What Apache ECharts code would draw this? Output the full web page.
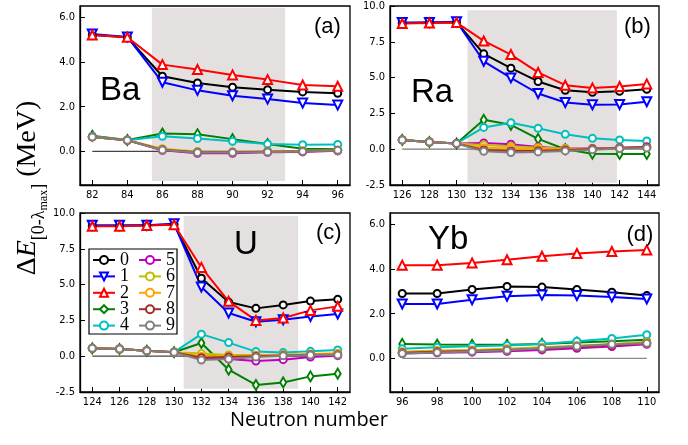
<!DOCTYPE html>
<html>
<head>
<meta charset="utf-8">
<script src="https://cdn.jsdelivr.net/npm/echarts@6/dist/echarts.min.js"></script>
<style>
html,body{margin:0;padding:0;background:#fff;}
#chart{width:688px;height:445px;}
</style>
</head>
<body>
<div id="chart"></div>
<script>
// ---------- data ----------
const seriesNames = ['0','1','2','3','4','5','6','7','8','9'];

// (a) Ba
const baN = [82, 84, 86, 88, 90, 92, 94, 96];
const baS = [
  [5.20, 5.10, 3.36, 3.06, 2.87, 2.76, 2.66, 2.60],
  [5.25, 5.12, 3.09, 2.73, 2.49, 2.34, 2.16, 2.07],
  [5.20, 5.10, 3.88, 3.66, 3.42, 3.21, 2.97, 2.91],
  [0.70, 0.51, 0.80, 0.77, 0.55, 0.33, 0.12, 0.10],
  [0.68, 0.50, 0.68, 0.58, 0.45, 0.33, 0.30, 0.31],
  [0.65, 0.50, 0.05, -0.08, -0.08, -0.04, -0.02, 0.03],
  [0.65, 0.50, 0.12, 0.00, -0.02, 0.00, 0.02, 0.05],
  [0.65, 0.50, 0.10, -0.02, -0.03, 0.00, 0.02, 0.05],
  [0.65, 0.50, 0.07, -0.04, -0.04, -0.01, 0.01, 0.05],
  [0.65, 0.50, 0.06, -0.05, -0.05, -0.02, 0.00, 0.05]
];

// (b) Ra
const raN = [126, 128, 130, 132, 134, 136, 138, 140, 142, 144];
const raS = [
  [8.80, 8.85, 8.85, 6.66, 5.66, 4.73, 4.12, 3.98, 4.05, 4.19],
  [8.85, 8.85, 8.90, 6.14, 4.98, 3.89, 3.26, 3.10, 3.12, 3.31],
  [8.77, 8.81, 8.84, 7.56, 6.61, 5.36, 4.47, 4.28, 4.38, 4.56],
  [0.65, 0.50, 0.40, 2.05, 1.70, 0.72, 0.00, -0.32, -0.33, -0.33],
  [0.65, 0.50, 0.40, 1.52, 1.85, 1.46, 1.04, 0.76, 0.65, 0.58],
  [0.65, 0.50, 0.40, 0.44, 0.35, 0.16, 0.05, 0.05, 0.10, 0.15],
  [0.65, 0.50, 0.40, 0.30, 0.20, 0.10, 0.05, 0.02, 0.05, 0.10],
  [0.65, 0.50, 0.40, 0.10, 0.05, 0.02, 0.00, 0.02, 0.08, 0.12],
  [0.65, 0.50, 0.40, -0.05, -0.12, -0.10, -0.05, 0.02, 0.08, 0.15],
  [0.65, 0.50, 0.40, -0.14, -0.23, -0.19, -0.12, -0.04, 0.05, 0.09]
];

// (c) U
const uN = [124, 126, 128, 130, 132, 134, 136, 138, 140, 142];
const uS = [
  [9.10, 9.10, 9.15, 9.20, 5.44, 3.78, 3.34, 3.58, 3.85, 3.97],
  [9.15, 9.15, 9.15, 9.25, 4.83, 3.02, 2.41, 2.55, 2.78, 2.95],
  [9.07, 9.07, 9.13, 9.18, 6.20, 3.83, 2.50, 2.67, 3.20, 3.48],
  [0.55, 0.50, 0.38, 0.28, 0.92, -0.94, -2.01, -1.83, -1.41, -1.22],
  [0.55, 0.50, 0.38, 0.28, 1.54, 0.95, 0.32, 0.25, 0.34, 0.43],
  [0.55, 0.50, 0.38, 0.28, -0.15, -0.20, -0.34, -0.24, -0.06, 0.04],
  [0.55, 0.50, 0.38, 0.28, 0.18, 0.08, 0.08, 0.10, 0.12, 0.15],
  [0.55, 0.50, 0.38, 0.28, 0.00, 0.00, 0.05, 0.10, 0.15, 0.20],
  [0.55, 0.50, 0.38, 0.28, -0.10, -0.05, 0.00, 0.05, 0.10, 0.10],
  [0.55, 0.50, 0.38, 0.28, -0.27, -0.20, -0.06, 0.04, 0.08, 0.08]
];

// (d) Yb
const ybN = [96, 98, 100, 102, 104, 106, 108, 110];
const ybS = [
  [2.90, 2.90, 3.08, 3.22, 3.19, 3.08, 2.96, 2.81],
  [2.43, 2.43, 2.62, 2.78, 2.83, 2.81, 2.75, 2.66],
  [4.17, 4.17, 4.27, 4.41, 4.57, 4.69, 4.78, 4.85],
  [0.65, 0.62, 0.61, 0.61, 0.65, 0.71, 0.77, 0.83],
  [0.43, 0.50, 0.54, 0.58, 0.65, 0.77, 0.89, 1.06],
  [0.22, 0.25, 0.28, 0.32, 0.38, 0.45, 0.53, 0.63],
  [0.30, 0.35, 0.38, 0.43, 0.50, 0.57, 0.65, 0.73],
  [0.28, 0.32, 0.36, 0.40, 0.46, 0.55, 0.62, 0.70],
  [0.25, 0.30, 0.33, 0.38, 0.44, 0.52, 0.60, 0.68],
  [0.22, 0.27, 0.31, 0.37, 0.45, 0.54, 0.63, 0.68]
];

// tick labels
const ticksA = [0, 2, 4, 6];
const ticksB = [-2.5, 0, 2.5, 5, 7.5, 10];

// shaded regions [x0, x1, y0, y1]
const shadeA = [85.4, 93.0, -1.32, 6.42];
const shadeB = [130.8, 141.8, -2.34, 9.7];
const shadeC = [130.7, 139.1, -2.27, 9.79];

// ---------- styling ----------
const colors = ['#000000','#0000ff','#ff0000','#008000','#00bfbf','#bf00bf','#bfbf00','#ffa500','#a52a2a','#808080'];
const symbols = ['emptyCircle','emptyTriangle','emptyTriangle','emptyDiamond','emptyCircle','emptyCircle','emptyCircle','emptyCircle','emptyCircle','emptyCircle'];
const symSizes = [7, 9, 9, [6, 10], 7, 7, 7, 7, 7, 7];
const symRot = [0, 180, 0, 0, 0, 0, 0, 0, 0, 0];

const tickFont = '"DejaVu Sans Condensed", "DejaVu Sans", sans-serif';

const panels = [
  {N: baN, S: baS, grid: {left: 80, top: 6, width: 270, height: 179}, x: [81.3, 96.7], y: [-1.5, 6.5], yt: ticksA, shade: shadeA, zc: '#444'},
  {N: raN, S: raS, grid: {left: 390, top: 6, width: 269, height: 179}, x: [125.1, 144.9], y: [-2.5, 10], yt: ticksB, shade: shadeB, zc: '#777'},
  {N: uN, S: uS, grid: {left: 80, top: 213, width: 270, height: 179}, x: [123.1, 142.9], y: [-2.5, 10], yt: ticksB, shade: shadeC, zc: '#444'},
  {N: ybN, S: ybS, grid: {left: 390, top: 213, width: 269, height: 179}, x: [95.3, 110.7], y: [-1.5, 6.5], yt: ticksA, shade: null, zc: '#888'}
];

const grids = [], xAxes = [], yAxes = [], series = [];
panels.forEach((p, k) => {
  grids.push(Object.assign({show: true, borderColor: '#000', borderWidth: 1.3, backgroundColor: 'transparent'}, p.grid));
  xAxes.push({
    type: 'value', gridIndex: k, min: p.x[0], max: p.x[1],
    axisLine: {show: true, onZero: false, lineStyle: {color: '#000', width: 1.3}},
    axisTick: {show: true, inside: true, length: 5, customValues: p.N, lineStyle: {color: '#000', width: 1}},
    axisLabel: {show: true, customValues: p.N, margin: 5, fontSize: 11, color: '#000', fontFamily: tickFont},
    splitLine: {show: false}
  });
  yAxes.push({
    type: 'value', gridIndex: k, min: p.y[0], max: p.y[1],
    axisLine: {show: true, onZero: false, lineStyle: {color: '#000', width: 1.3}},
    axisTick: {show: true, inside: true, length: 5, customValues: p.yt, lineStyle: {color: '#000', width: 1}},
    axisLabel: {show: true, customValues: p.yt, margin: 5, fontSize: 11, color: '#000', fontFamily: tickFont,
      formatter: v => Number(v).toFixed(1)},
    splitLine: {show: false}
  });
  if (p.shade) {
    series.push({
      type: 'line', xAxisIndex: k, yAxisIndex: k, data: [], z: 0, silent: true,
      markArea: {silent: true, itemStyle: {color: '#e5e0e0'},
        data: [[{coord: [p.shade[0], p.shade[2]]}, {coord: [p.shade[1], p.shade[3]]}]]}
    });
  }
  series.push({
    type: 'line', xAxisIndex: k, yAxisIndex: k, z: 1, silent: true, showSymbol: false, symbol: 'none',
    data: [[p.N[0], 0], [p.N[p.N.length - 1], 0]],
    lineStyle: {color: p.zc, width: 1.2}
  });
  p.S.forEach((vals, i) => {
    series.push({
      name: seriesNames[i], type: 'line', xAxisIndex: k, yAxisIndex: k, z: 2,
      data: p.N.map((n, j) => [n, vals[j]]),
      symbol: symbols[i], symbolSize: symSizes[i], symbolRotate: symRot[i],
      showAllSymbol: true,
      lineStyle: {color: colors[i], width: 2},
      itemStyle: {color: colors[i], borderWidth: 1.5},
      emphasis: {disabled: true},
      animation: false
    });
  });
});

const legendCommon = {
  orient: 'vertical', itemWidth: 22, itemHeight: 10, itemGap: -1.6, z: 11,
  padding: 0, selectedMode: false,
  textStyle: {fontFamily: '"Liberation Serif", "DejaVu Serif", serif', fontSize: 18, color: '#000', lineHeight: 16.4}
};

const labelFont = '"Liberation Sans", Arial, sans-serif';
const serif = '"Liberation Serif", "DejaVu Serif", serif';
function txt(x, y, t, size) {
  return {type: 'text', x: x, y: y, z: 20,
    style: {text: t, font: size + 'px ' + labelFont, fill: '#000', align: 'left', verticalAlign: 'middle',
            textAlign: 'left', textVerticalAlign: 'middle'}};
}

// y-axis title pieces laid out along a rotated group
const ctx = document.createElement('canvas').getContext('2d');
const yPieces = [
  {t: 'Δ', font: '28px ' + serif, dy: 0},
  {t: 'E', font: 'italic 28px ' + serif, dy: 0},
  {t: '[0-λ', font: '18px ' + serif, dy: 11},
  {t: 'max', font: '12px ' + serif, dy: 16},
  {t: ']', font: '18px ' + serif, dy: 11},
  {t: ' (MeV)', font: '28px ' + serif, dy: 0}
];
let total = 0;
yPieces.forEach(p => { ctx.font = p.font; p.w = ctx.measureText(p.t).width; total += p.w; });
let cx = -total / 2;
const yChildren = yPieces.map(p => {
  const el = {type: 'text', x: cx, y: p.dy, style: {text: p.t, font: p.font, fill: '#000',
    align: 'left', verticalAlign: 'middle', textAlign: 'left', textVerticalAlign: 'middle'}};
  cx += p.w;
  return el;
});

const option = {
  animation: false,
  backgroundColor: '#fff',
  grid: grids, xAxis: xAxes, yAxis: yAxes, series: series,
  legend: [
    Object.assign({left: 92, top: 251, data: seriesNames.slice(0, 5)}, legendCommon),
    Object.assign({left: 138, top: 251, data: seriesNames.slice(5, 10)}, legendCommon)
  ],
  graphic: [
    {type: 'rect', z: 10, shape: {x: 89, y: 249, width: 88, height: 85},
     style: {fill: '#fff', stroke: '#000', lineWidth: 1.2}},
    txt(100, 91, 'Ba', 33),
    txt(411, 92.5, 'Ra', 33),
    txt(234, 245, 'U', 33),
    txt(428, 240, 'Yb', 33),
    txt(314, 27.3, '(a)', 22),
    txt(624, 27, '(b)', 22),
    txt(316, 233, '(c)', 22),
    txt(626.5, 235, '(d)', 22),
    {type: 'text', x: 309, y: 420, z: 20,
     style: {text: 'Neutron number', font: '20px "Open Sans", "Noto Sans", sans-serif', fill: '#000',
             align: 'center', verticalAlign: 'middle', textAlign: 'center', textVerticalAlign: 'middle'}},
    {type: 'group', x: 28, y: 188, rotation: Math.PI / 2, z: 20, children: yChildren}
  ]
};

const chart = echarts.init(document.getElementById('chart'), null, {renderer: 'canvas'});
chart.setOption(option);
</script>
</body>
</html>
